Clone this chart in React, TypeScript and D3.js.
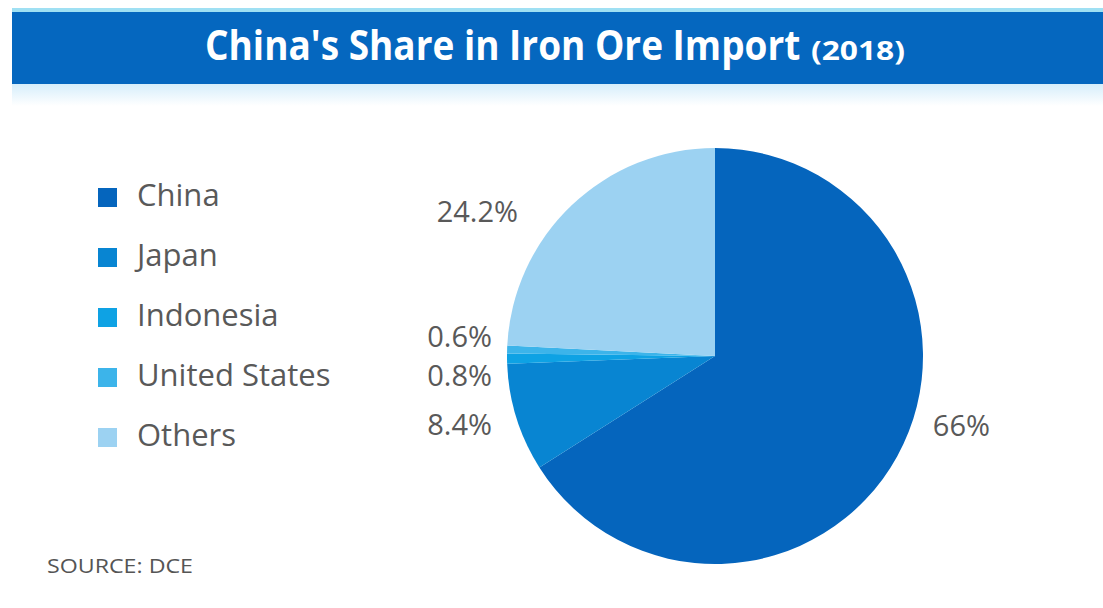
import React from "react";
import * as d3 from "d3";

const countries = ["China", "Japan", "Indonesia", "United States", "Others"];
const shares = [66, 8.4, 0.8, 0.6, 24.2];
const shareLabels = ["66%", "8.4%", "0.8%", "0.6%", "24.2%"];
const colors = ["#0565bd", "#0885d2", "#0ea2e4", "#3cb4ea", "#9cd2f2"];

const W = 1103;
const H = 608;
const cx = 715;
const cy = 356;
const radius = 208;

// where each percentage label sits (text anchor point), by country
const labelAt: Record<string, [number, number, string]> = {
  China: [990, 436, "end"],
  Japan: [492, 435, "end"],
  Indonesia: [492, 386, "end"],
  "United States": [492, 347, "end"],
  Others: [518, 222, "end"],
};

const font = "'Open Sans', 'Noto Sans', sans-serif";

export default function App() {
  const pie = d3
    .pie<number>()
    .sort(null)
    .value((d) => d)
    .startAngle(0)
    .endAngle(2 * Math.PI);
  const arcs = pie(shares);
  const arc = d3.arc<d3.PieArcDatum<number>>().innerRadius(0).outerRadius(radius);

  // legend baselines
  const legendY = d3
    .scalePoint<string>()
    .domain(countries)
    .range([206, 446]);

  return (
    <svg
      width={W}
      height={H}
      style={{ position: "absolute", left: 0, top: 0, background: "#fff" }}
    >
      <defs>
        <linearGradient id="under" x1="0" y1="0" x2="0" y2="1">
          <stop offset="0" stopColor="#d6eefb" />
          <stop offset="1" stopColor="#ffffff" />
        </linearGradient>
      </defs>
      <rect x={12} y={8} width={W - 12} height={4} fill="#9fe0f3" />
      <rect x={12} y={12} width={W - 12} height={72} fill="#0567bf" />
      <rect x={12} y={84} width={W - 12} height={22} fill="url(#under)" />
      <text
        transform="translate(205,60) scale(1,1.1)"
        fill="#ffffff"
        fontFamily={font}
        fontWeight="bold"
        fontSize={37}
      >
        China's Share in Iron Ore Import
      </text>
      <text
        x={811}
        y={60}
        fill="#ffffff"
        fontFamily={font}
        fontWeight="bold"
        fontSize={26}
        textLength={94}
        lengthAdjust="spacingAndGlyphs"
      >
        (2018)
      </text>

      <g transform={`translate(${cx},${cy})`}>
        {arcs.map((a, i) => (
          <path key={countries[i]} d={arc(a) || ""} fill={colors[i]} />
        ))}
      </g>

      {countries.map((c, i) => {
        const [lx, ly, anchor] = labelAt[c];
        return (
          <text
            key={c}
            x={lx}
            y={ly}
            textAnchor={anchor}
            fill="#595959"
            fontFamily={font}
            fontSize={29}
          >
            {shareLabels[i]}
          </text>
        );
      })}

      {countries.map((c, i) => (
        <g key={c} transform={`translate(98,${legendY(c)})`}>
          <rect x={0} y={-18} width={19} height={19} fill={colors[i]} />
          <text x={39} y={0} fill="#595959" fontFamily={font} fontSize={31}>
            {c}
          </text>
        </g>
      ))}

      <text
        x={47}
        y={573}
        fill="#555555"
        fontFamily={font}
        fontWeight={500}
        fontSize={20}
        textLength={146}
        lengthAdjust="spacingAndGlyphs"
      >
        SOURCE: DCE
      </text>
    </svg>
  );
}
